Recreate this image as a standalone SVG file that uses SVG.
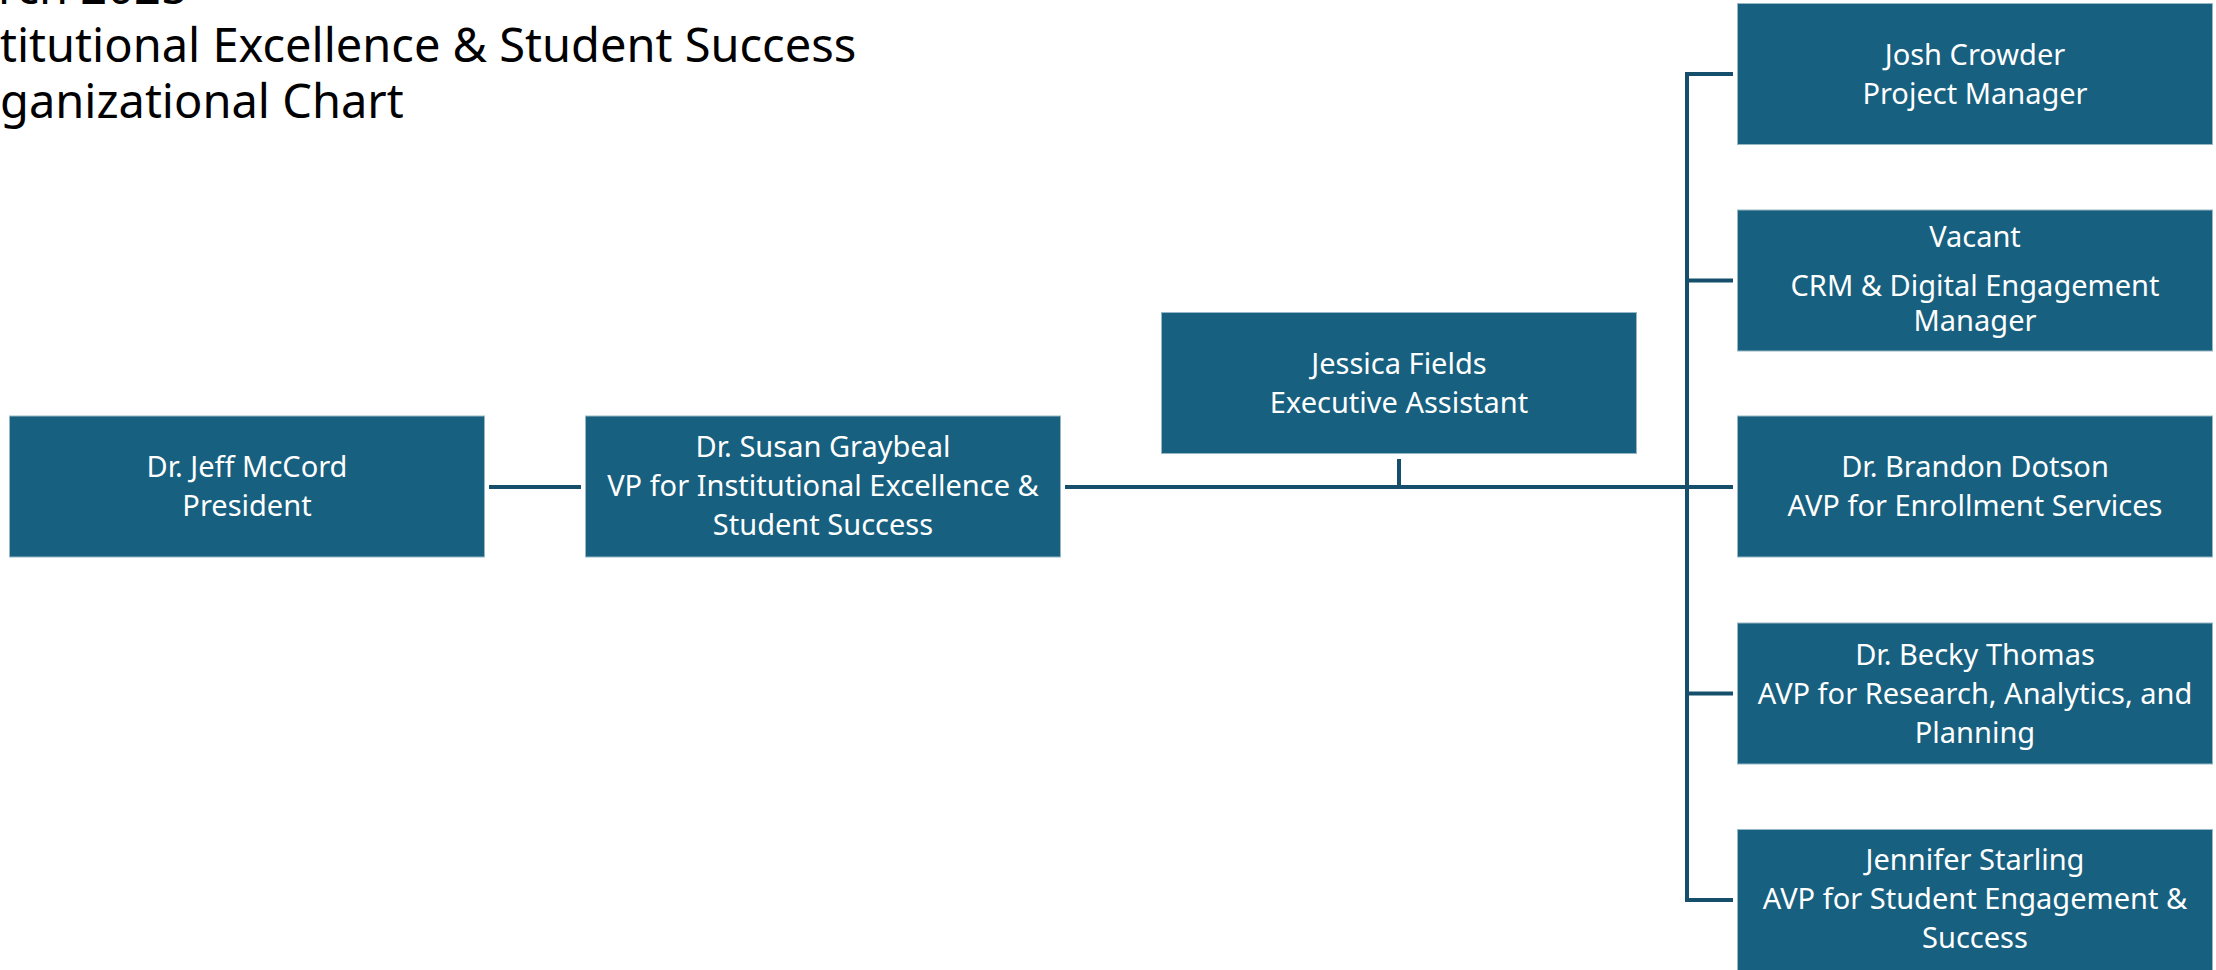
<svg xmlns="http://www.w3.org/2000/svg" width="2216" height="970" viewBox="0 0 2216 970">
<style>
.box{fill:#17607F;stroke:#ffffff;stroke-width:2;stroke-opacity:0.55}
.lbl{font-family:"Noto Sans","Open Sans","Liberation Sans",sans-serif;font-size:29px;fill:#ffffff;text-anchor:middle}
.title{font-family:"Noto Sans","Open Sans","Liberation Sans",sans-serif;font-size:47px;fill:#000000}
.conn{fill:none;stroke:#154F6C;stroke-width:4;stroke-linecap:butt;stroke-linejoin:miter}
</style>
<rect width="2216" height="970" fill="#ffffff"/>
<g id="title">
<text class="title" x="-2" y="4">rch 2025</text>
<text class="title" x="0" y="62">titutional Excellence &amp; Student Success</text>
<text class="title" x="0" y="118">ganizational Chart</text>
</g>
<g id="connectors">
<line class="conn" x1="489" y1="487" x2="581" y2="487"/>
<line class="conn" x1="1065" y1="487" x2="1733" y2="487"/>
<line class="conn" x1="1399" y1="459" x2="1399" y2="487"/>
<path class="conn" d="M1733,74 H1687 V900 H1733"/>
<line class="conn" x1="1687" y1="280.5" x2="1733" y2="280.5"/>
<line class="conn" x1="1687" y1="693.5" x2="1733" y2="693.5"/>
</g>
<g id="node-mccord">
<rect class="box" x="9" y="415.5" width="476" height="142"/>
<text class="lbl" x="247" y="477">Dr. Jeff McCord</text>
<text class="lbl" x="247" y="516">President</text>
</g>
<g id="node-graybeal">
<rect class="box" x="585" y="415.5" width="476" height="142"/>
<text class="lbl" x="823" y="457">Dr. Susan Graybeal</text>
<text class="lbl" x="823" y="496">VP for Institutional Excellence &amp;</text>
<text class="lbl" x="823" y="535">Student Success</text>
</g>
<g id="node-fields">
<rect class="box" x="1161" y="312" width="476" height="142"/>
<text class="lbl" x="1399" y="374">Jessica Fields</text>
<text class="lbl" x="1399" y="413">Executive Assistant</text>
</g>
<g id="node-crowder">
<rect class="box" x="1737" y="3" width="476" height="142"/>
<text class="lbl" x="1975" y="64.5">Josh Crowder</text>
<text class="lbl" x="1975" y="103.5">Project Manager</text>
</g>
<g id="node-vacant">
<rect class="box" x="1737" y="209.5" width="476" height="142"/>
<text class="lbl" x="1975" y="246.5">Vacant</text>
<text class="lbl" x="1975" y="295.5">CRM &amp; Digital Engagement</text>
<text class="lbl" x="1975" y="331">Manager</text>
</g>
<g id="node-dotson">
<rect class="box" x="1737" y="415.5" width="476" height="142"/>
<text class="lbl" x="1975" y="477">Dr. Brandon Dotson</text>
<text class="lbl" x="1975" y="516">AVP for Enrollment Services</text>
</g>
<g id="node-thomas">
<rect class="box" x="1737" y="622.5" width="476" height="142"/>
<text class="lbl" x="1975" y="665">Dr. Becky Thomas</text>
<text class="lbl" x="1975" y="704">AVP for Research, Analytics, and</text>
<text class="lbl" x="1975" y="743">Planning</text>
</g>
<g id="node-starling">
<rect class="box" x="1737" y="829" width="476" height="142"/>
<text class="lbl" x="1975" y="870">Jennifer Starling</text>
<text class="lbl" x="1975" y="909">AVP for Student Engagement &amp;</text>
<text class="lbl" x="1975" y="948">Success</text>
</g>
</svg>
